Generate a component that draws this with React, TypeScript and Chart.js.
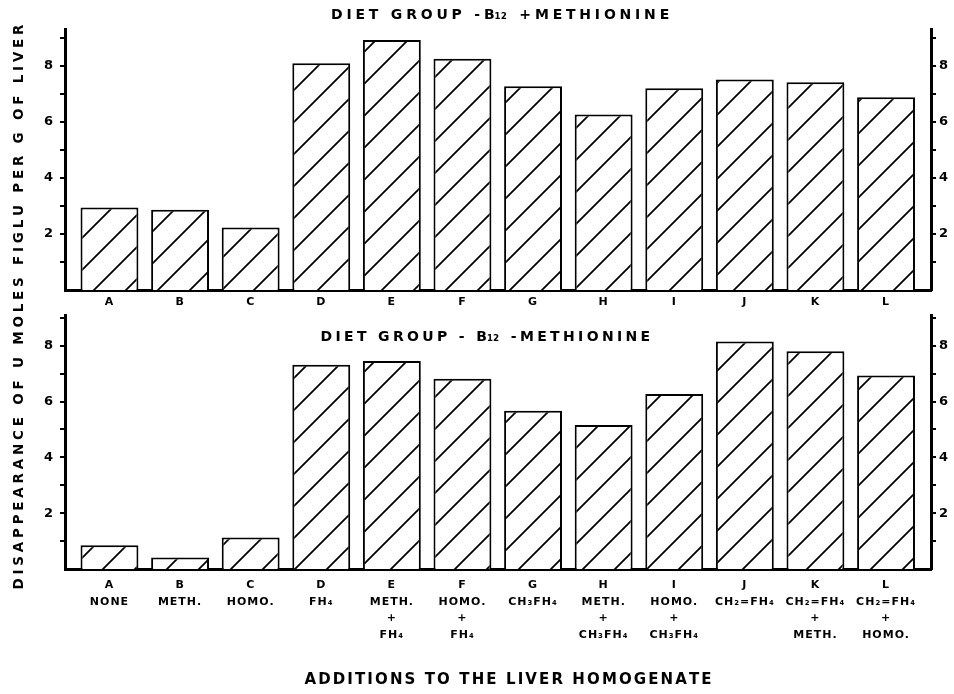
import React, { useEffect, useRef } from 'react';
import { Chart, registerables } from 'chart.js';
Chart.register(...registerables);

const categories = ['A', 'B', 'C', 'D', 'E', 'F', 'G', 'H', 'I', 'J', 'K', 'L'];
const additions: string[][] = [
  ['NONE'],
  ['METH.'],
  ['HOMO.'],
  ['FH₄'],
  ['METH.', '+', 'FH₄'],
  ['HOMO.', '+', 'FH₄'],
  ['CH₃FH₄'],
  ['METH.', '+', 'CH₃FH₄'],
  ['HOMO.', '+', 'CH₃FH₄'],
  ['CH₂=FH₄'],
  ['CH₂=FH₄', '+', 'METH.'],
  ['CH₂=FH₄', '+', 'HOMO.'],
];
const withMethionine = [2.95, 2.87, 2.23, 8.1, 8.93, 8.26, 7.28, 6.27, 7.2, 7.52, 7.42, 6.88];
const withoutMethionine = [0.85, 0.41, 1.13, 7.32, 7.45, 6.82, 5.67, 5.16, 6.27, 8.15, 7.8, 6.93];
const yTickValues = [1, 2, 3, 4, 5, 6, 7, 8, 9];
const yLabelValues = [2, 4, 6, 8];
const titleTop = 'DIET GROUP -B₁₂ +METHIONINE';
const titleBottom = 'DIET GROUP - B₁₂ -METHIONINE';
const yTitle = 'DISAPPEARANCE OF U MOLES FIGLU PER G OF LIVER';
const xTitle = 'ADDITIONS TO THE LIVER HOMOGENATE';

const FAMILY = "'DejaVu Sans', 'Liberation Sans', sans-serif";
const W = 954;
const H = 694;

function makeHatch(ctx: CanvasRenderingContext2D) {
  const s = 32;
  const c = document.createElement('canvas');
  c.width = s;
  c.height = s;
  const g = c.getContext('2d')!;
  g.fillStyle = '#fff';
  g.fillRect(0, 0, s, s);
  g.strokeStyle = '#000';
  g.lineWidth = 1.8;
  g.beginPath();
  g.moveTo(-3, s + 3);
  g.lineTo(s + 3, -3);
  g.moveTo(-3, 3);
  g.lineTo(3, -3);
  g.moveTo(s - 3, s + 3);
  g.lineTo(s + 3, s - 3);
  g.stroke();
  return ctx.createPattern(c, 'repeat');
}

const SUBS = '₀₁₂₃₄₅₆₇₈₉';

function tokenize(text: string): string[] {
  const out: string[] = [];
  for (const ch of Array.from(text)) {
    if (SUBS.includes(ch) && out.length && SUBS.includes(Array.from(out[out.length - 1]).pop()!)) {
      out[out.length - 1] += ch;
    } else {
      out.push(ch);
    }
  }
  return out;
}

function drawSpaced(
  ctx: CanvasRenderingContext2D,
  text: string,
  cx: number,
  cy: number,
  target: number,
  font: string,
  rotate = false
) {
  ctx.save();
  (ctx as any).letterSpacing = '0px';
  ctx.font = font;
  ctx.fillStyle = '#000';
  ctx.textBaseline = 'middle';
  ctx.textAlign = 'left';
  const chars = tokenize(text);
  const widths = chars.map((ch) => ctx.measureText(ch).width);
  const w0 = widths.reduce((a, b) => a + b, 0);
  const gap = chars.length > 1 ? (target - w0) / (chars.length - 1) : 0;
  ctx.translate(cx, cy);
  if (rotate) ctx.rotate(-Math.PI / 2);
  let x = -target / 2;
  chars.forEach((ch, i) => {
    ctx.fillText(ch, x, 0);
    const nextSub = i + 1 < chars.length && SUBS.includes(Array.from(chars[i + 1])[0]);
    x += widths[i] + (nextSub ? 0 : gap);
  });
  ctx.restore();
}

function makeConfig(
  ctx: CanvasRenderingContext2D,
  values: number[],
  o: {
    areaTop: number;
    areaBottom: number;
    xHeight: number;
    yMax: number;
    long: boolean;
    drawTexts: (c: CanvasRenderingContext2D) => void;
  }
): any {
  const hatch = makeHatch(ctx);
  const tickFont = { family: FAMILY, weight: 'bold' as const, size: 13 };
  const yAxis = (position: 'left' | 'right', width: number) => ({
    type: 'linear',
    position,
    display: true,
    min: 0,
    max: o.yMax,
    afterBuildTicks: (s: any) => {
      s.ticks = yTickValues.map((v) => ({ value: v }));
    },
    ticks: {
      autoSkip: false,
      callback: (v: any) => (yLabelValues.includes(Number(v)) ? String(v) : ''),
      font: tickFont,
      color: '#000',
      padding: position === 'left' ? 6 : 3,
    },
    grid: {
      drawOnChartArea: false,
      drawTicks: true,
      tickLength: 5,
      color: '#000',
      lineWidth: 2,
    },
    border: { display: true, width: 3, color: '#000' },
    afterFit: (s: any) => {
      s.width = width;
    },
  });
  return {
    type: 'bar',
    data: {
      datasets: [
        {
          data: values.map((v, i) => ({ x: i, y: v })),
          backgroundColor: hatch,
          borderColor: '#000',
          borderWidth: 2,
          barPercentage: 0.82,
          categoryPercentage: 1,
          yAxisID: 'y',
        },
      ],
    },
    options: {
      responsive: false,
      animation: false,
      events: [],
      layout: {
        padding: {
          top: o.areaTop,
          bottom: H - o.areaBottom - o.xHeight,
          left: 0,
          right: 0,
        },
      },
      plugins: { legend: { display: false }, tooltip: { enabled: false }, title: { display: false } },
      scales: {
        x: {
          type: 'linear',
          offset: false,
          min: -0.63,
          max: 11.637,
          afterBuildTicks: (s: any) => {
            s.ticks = categories.map((_, i) => ({ value: i }));
          },
          ticks: {
            autoSkip: false,
            maxRotation: 0,
            minRotation: 0,
            padding: o.long ? 8 : 6,
            color: '#000',
            font: { family: FAMILY, weight: 'bold', size: 11, lineHeight: o.long ? 1.5 : 1.2 },
            callback: (v: any) => {
              const i = Math.round(Number(v));
              return o.long ? [categories[i], ...additions[i]] : categories[i];
            },
          },
          grid: { display: false, drawTicks: false, offset: false },
          border: { display: true, width: 3, color: '#000' },
          afterFit: (s: any) => {
            s.height = o.xHeight;
          },
        },
        y: yAxis('left', 65),
        y2: yAxis('right', W - 931),
      },
    },
    plugins: [
      {
        id: 'texts',
        beforeDraw: (chart: any) => {
          (chart.ctx as any).letterSpacing = '1px';
        },
        afterDraw: (chart: any) => {
          (chart.ctx as any).letterSpacing = '0px';
          o.drawTexts(chart.ctx);
        },
      },
    ],
  };
}

export default function App() {
  const topRef = useRef<HTMLCanvasElement>(null);
  const botRef = useRef<HTMLCanvasElement>(null);
  useEffect(() => {
    const tctx = topRef.current!.getContext('2d')!;
    const bctx = botRef.current!.getContext('2d')!;
    const top = new Chart(
      tctx,
      makeConfig(tctx, withMethionine, {
        areaTop: 29,
        areaBottom: 290,
        xHeight: 22,
        yMax: 9.32,
        long: false,
        drawTexts: (c) => {
          drawSpaced(c, titleTop, 502, 15, 342, `bold 14px ${FAMILY}`);
        },
      })
    );
    const bot = new Chart(
      bctx,
      makeConfig(bctx, withoutMethionine, {
        areaTop: 315,
        areaBottom: 569,
        xHeight: 85,
        yMax: 9.1,
        long: true,
        drawTexts: (c) => {
          drawSpaced(c, titleBottom, 487, 337, 333, `bold 14px ${FAMILY}`);
          drawSpaced(c, yTitle, 19, 307, 565, `bold 13.5px ${FAMILY}`, true);
          drawSpaced(c, xTitle, 508, 680, 407, `bold 15px ${FAMILY}`);
        },
      })
    );
    return () => {
      top.destroy();
      bot.destroy();
    };
  }, []);
  return (
    <div style={{ position: 'absolute', left: 0, top: 0, width: W, height: H, background: '#fff' }}>
      <canvas ref={topRef} width={W} height={H} style={{ position: 'absolute', left: 0, top: 0 }} />
      <canvas ref={botRef} width={W} height={H} style={{ position: 'absolute', left: 0, top: 0 }} />
    </div>
  );
}
